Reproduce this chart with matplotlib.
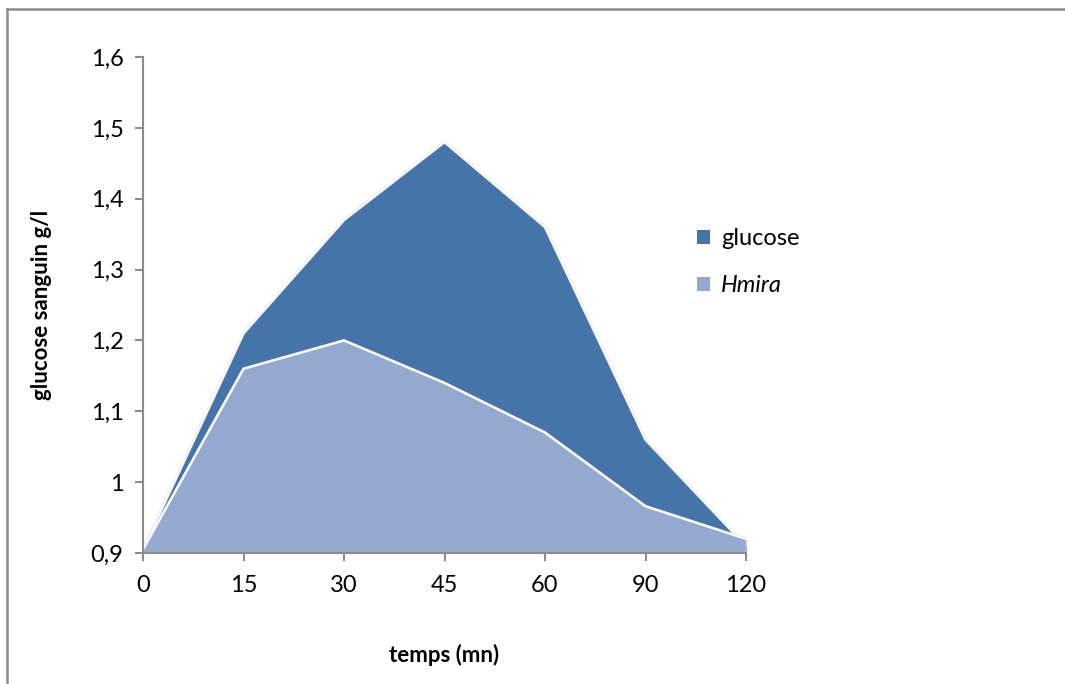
import matplotlib
matplotlib.use("Agg")
import matplotlib.pyplot as plt
from matplotlib.patches import Patch
from matplotlib.lines import Line2D

categories = ["0", "15", "30", "45", "60", "90", "120"]
glucose = [0.905, 1.21, 1.37, 1.48, 1.36, 1.06, 0.91]
hmira = [0.905, 1.16, 1.20, 1.14, 1.07, 0.966, 0.92]
yticks = [0.9, 1.0, 1.1, 1.2, 1.3, 1.4, 1.5, 1.6]
ytick_labels = ["0,9", "1", "1,1", "1,2", "1,3", "1,4", "1,5", "1,6"]

plt.rcParams['font.family'] = ['Lato', 'DejaVu Sans']

W, H = 1065, 684
fig = plt.figure(figsize=(W / 100, H / 100), dpi=100)
ax = fig.add_axes([143 / W, 1 - 553 / H, (746 - 143) / W, (553 - 57) / H])

x = list(range(len(categories)))
c_dark = "#4674A8"
c_light = "#95A9CF"

ax.fill_between(x, 0.9, glucose, color=c_dark, lw=0, zorder=2)
ax.plot(x, glucose, color="#e6e6e6", lw=2.0, zorder=2.5)
ax.plot(x, glucose, color="white", lw=1.0, zorder=2.6)
ax.fill_between(x, 0.9, hmira, color=c_light, lw=0, zorder=3)
ax.plot(x, hmira, color="#e6e6e6", lw=2.0, zorder=3.5)
ax.plot(x, hmira, color="white", lw=1.0, zorder=3.6)
ax.plot([x[-1], x[-1]], [0.9, hmira[-1]], color="white", lw=1.0, zorder=3.6)

ax.set_xlim(0, len(categories) - 1)
ax.set_ylim(0.9, 1.6)
ax.set_xticks(x)
ax.set_xticklabels(categories)
ax.set_yticks(yticks)
ax.set_yticklabels(ytick_labels)

for s in ["top", "right"]:
    ax.spines[s].set_visible(False)
for s in ["left", "bottom"]:
    ax.spines[s].set_color("#8c8c8c")
    ax.spines[s].set_linewidth(1.5)
    ax.spines[s].set_zorder(5)
ax.tick_params(axis="both", direction="out", length=6, width=1.5, color="#8c8c8c",
               labelsize=17, labelcolor="black")
ax.tick_params(axis="x", pad=10)
ax.tick_params(axis="y", pad=8)

ax.set_xlabel("temps (mn)", fontsize=16, fontweight="bold", labelpad=34)
ax.set_ylabel("glucose sanguin g/l", fontsize=16, fontweight="bold", labelpad=28)

handles = [Patch(facecolor=c_dark, edgecolor="none", label="glucose"),
           Patch(facecolor=c_light, edgecolor="none", label="Hmira")]
leg = fig.legend(handles=handles, loc="center left", bbox_to_anchor=(676 / W, 1 - 262 / H),
                 frameon=False, fontsize=17, handlelength=0.55, handleheight=0.55,
                 handletextpad=0.45, labelspacing=1.1)
leg.get_texts()[1].set_fontstyle("italic")

# outer frame (top and left visible)
fig.add_artist(Line2D([6.5 / W, 6.5 / W], [0, 1 - 8.5 / H], transform=fig.transFigure,
                      color="#8c8c8c", lw=1.8))
fig.add_artist(Line2D([6.5 / W, 1], [1 - 8.5 / H, 1 - 8.5 / H], transform=fig.transFigure,
                      color="#8c8c8c", lw=1.8))

fig.savefig("out.png", dpi=100)
